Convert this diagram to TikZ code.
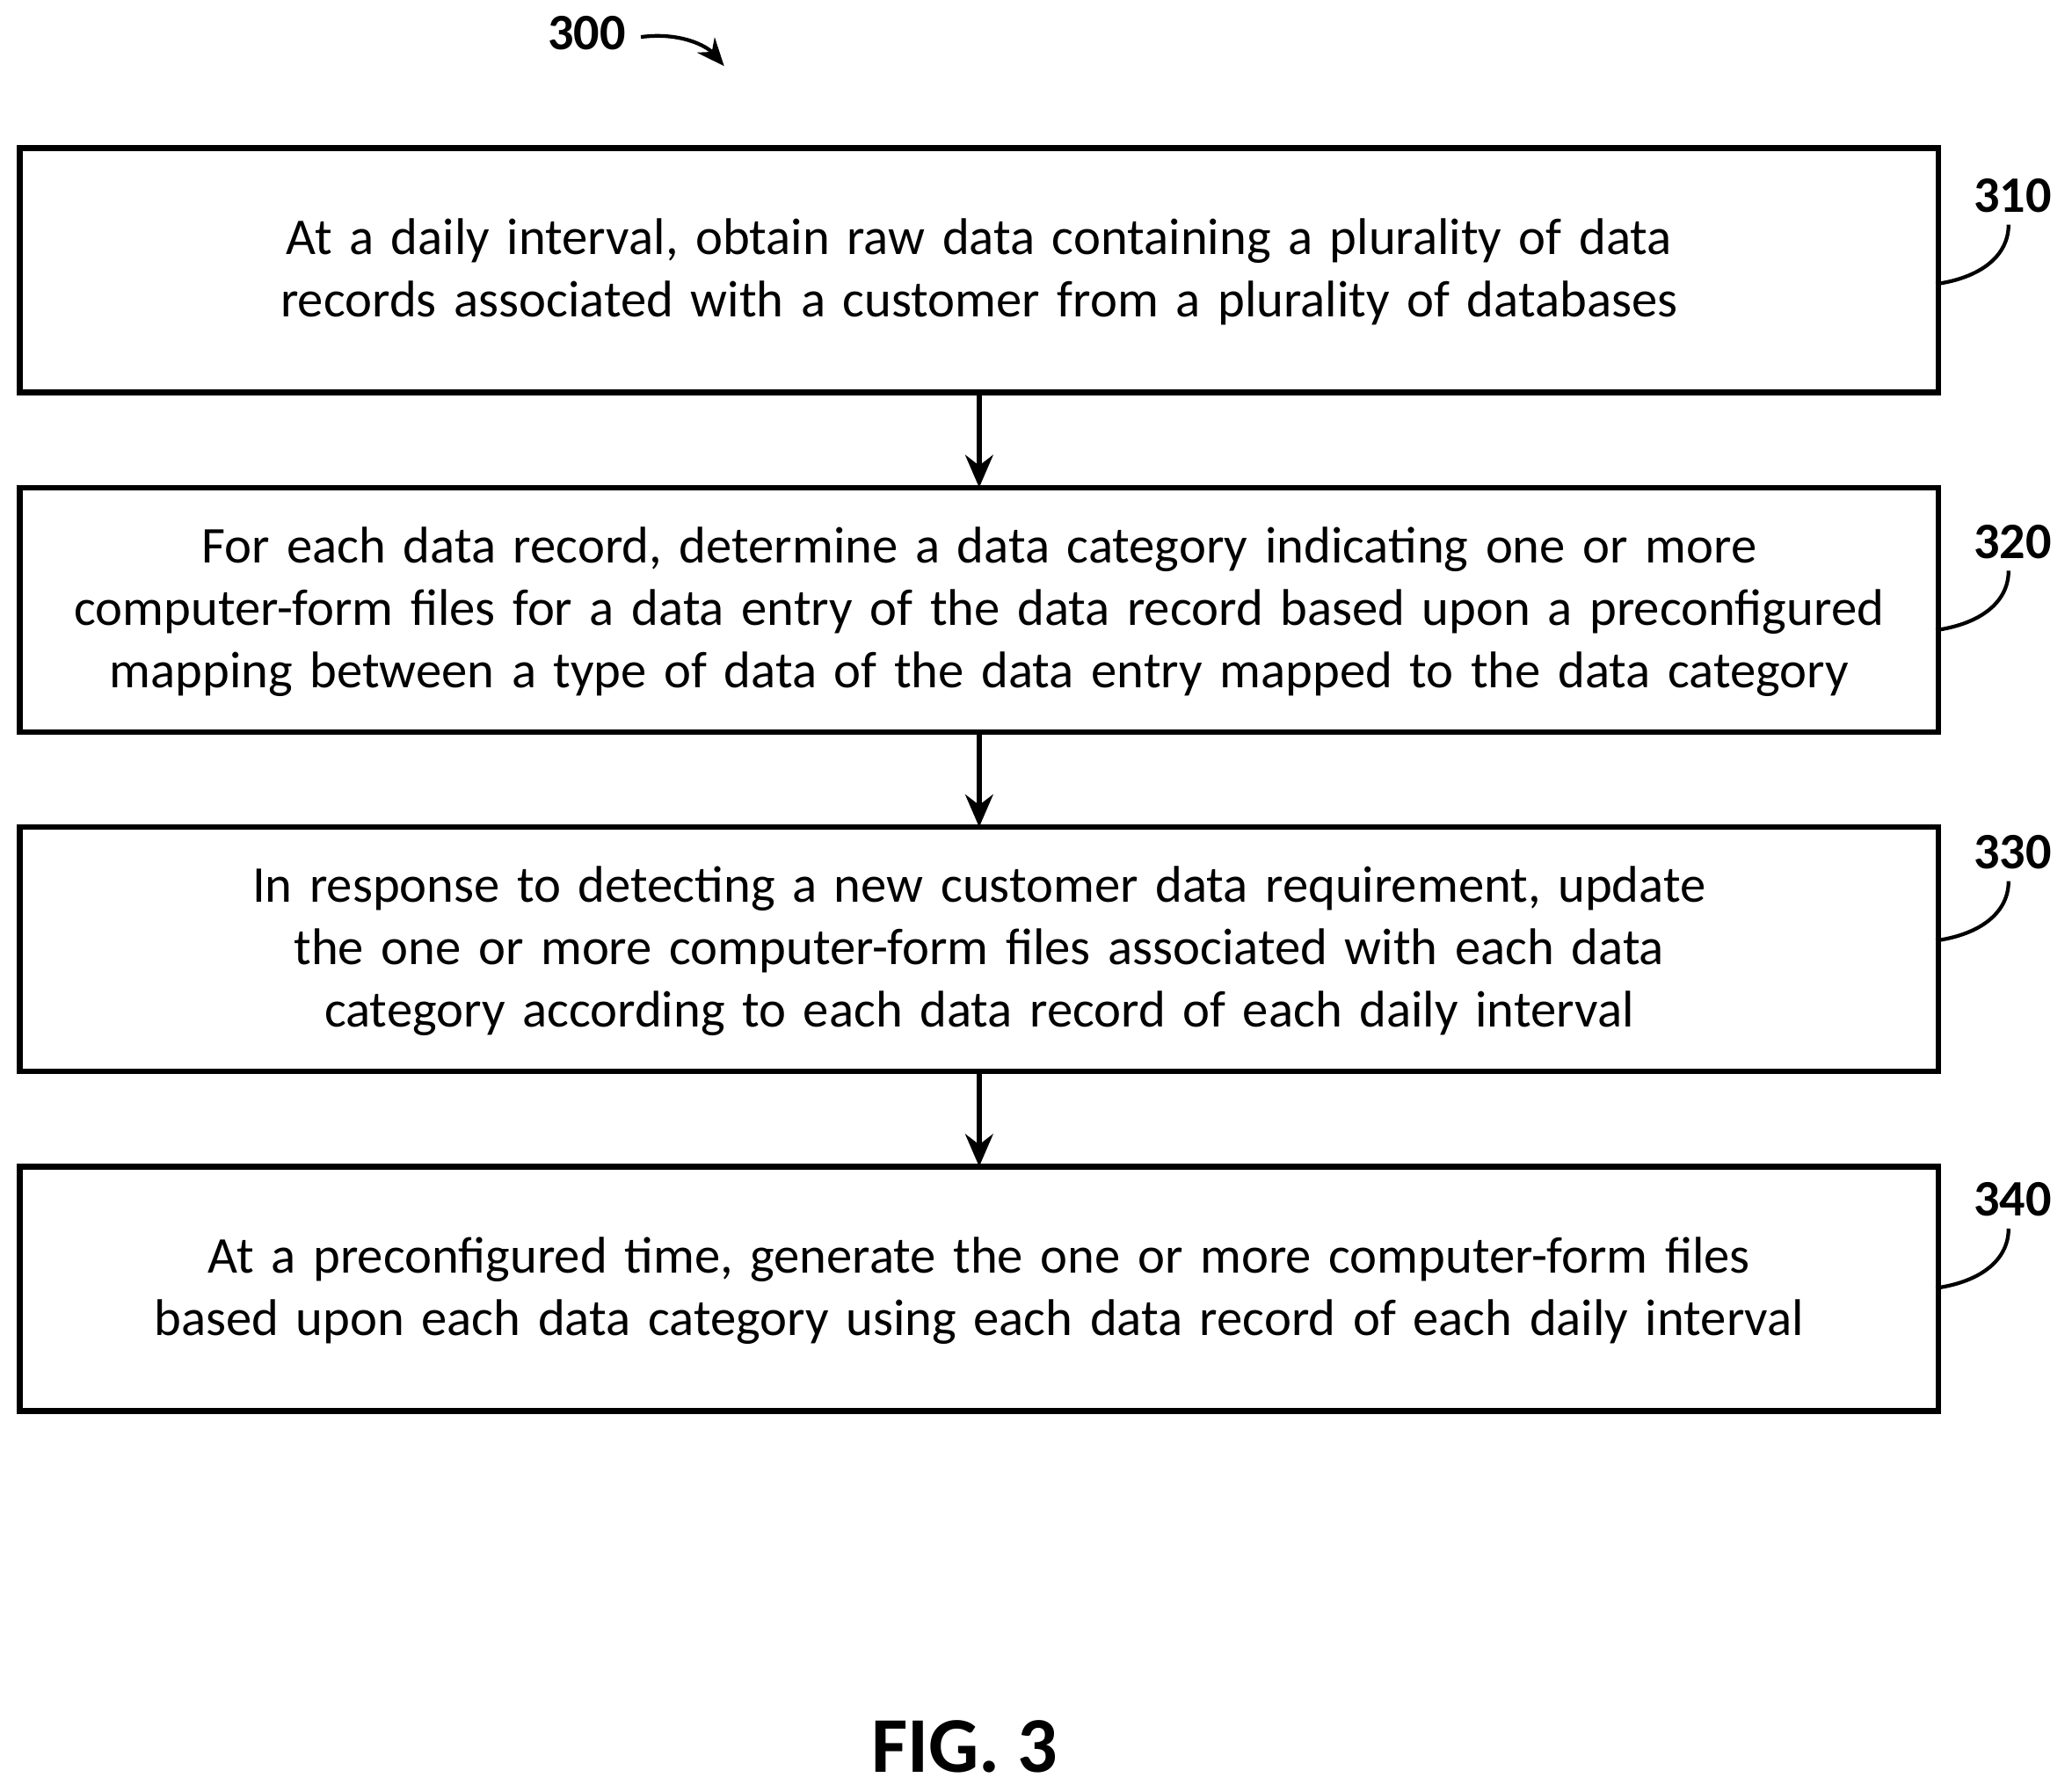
\documentclass[tikz,border=0pt]{standalone}
\usepackage{fontspec}
\setmainfont{Carlito}
\usetikzlibrary{arrows.meta}
\hyphenpenalty=10000
\begin{document}
\begin{tikzpicture}[x=0.01cm,y=-0.01cm,
 box/.style={draw,line width=1.2pt},
 txt/.style={align=center,font=\fontsize{11.1pt}{13.4pt}\selectfont,text width=14.1cm,execute at begin node={\hyphenpenalty=10000\exhyphenpenalty=10000}},
 lbl/.style={font=\bfseries\fontsize{11pt}{13pt}\selectfont},
 arr/.style={-{Stealth[length=7pt,width=6pt]},line width=1pt},
 lead/.style={line width=0.8pt}]
\useasboundingbox (0,0) rectangle (1568,1356);
\node[lbl] (t) at (444,25) {300};
\coordinate (ta) at (485,28);
\coordinate (tb) at (548,50);
\draw[-{Stealth[length=6pt,width=5pt]},line width=0.8pt] (ta) .. controls (515,24) and (535,35) .. (tb);
\foreach \n/\ya/\yb in {1/112/297,2/369/554,3/626/811,4/883/1068}{
 \draw[box] (15,\ya) rectangle (1467,\yb);
 \coordinate (b\n) at (741,\ya);
 \coordinate (e\n) at (741,\yb);
}
\node[txt] (n1) at (741,206) {At a daily interval, obtain raw data containing a plurality of data records associated with a customer from a plurality of databases};
\node[txt] (n2) at (741,463) {For each data record, determine a data category indicating one or more computer-form files for a data entry of the data record based upon a preconfigured mapping between a type of data of the data entry mapped to the data category};
\node[txt] (n3) at (741,720) {In response to detecting a new customer data requirement, update the one or more computer-form files associated with each data category according to each data record of each daily interval};
\node[txt] (n4) at (741,977) {At a preconfigured time, generate the one or more computer-form files based upon each data category using each data record of each daily interval};
\draw[arr] (e1) -- (b2);
\draw[arr] (e2) -- (b3);
\draw[arr] (e3) -- (b4);
\foreach \n/\lab/\y in {1/310/148,2/320/410,3/330/645,4/340/908}{
 \node[lbl] (l\n) at (1523,\y) {\lab};
 \draw[lead] (1465,\y+67) .. controls (1500,\y+62) and (1520,\y+45) .. (1520,\y+22);
}
\node[font=\bfseries\fontsize{17pt}{20pt}\selectfont] (fig) at (730,1322) {FIG. 3};
\end{tikzpicture}
\end{document}
